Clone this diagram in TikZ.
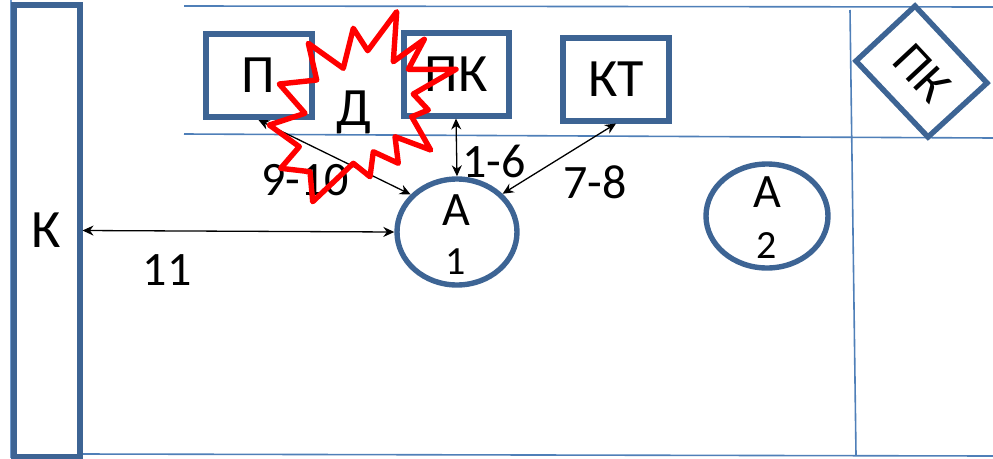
\documentclass[tikz,border=0pt]{standalone}
\usepackage{fontspec}
\setmainfont{Carlito}
\usetikzlibrary{shapes.geometric,arrows.meta}
\definecolor{boxblue}{HTML}{3D6494}
\definecolor{lineblue}{HTML}{4F7FB8}
\definecolor{pale}{HTML}{6F9BD0}
\tikzset{
  boxn/.style={draw=boxblue,line width=6pt,rectangle,inner sep=0pt,align=center,font=\fontsize{54}{54}\selectfont},
  circn/.style={draw=boxblue,line width=5.4pt,ellipse,inner sep=0pt},
  thin line/.style={draw=lineblue,line width=1.6pt},
  lab/.style={inner sep=0pt,font=\fontsize{48}{48}\selectfont},
  biarrow/.style={draw=black,line width=1.3pt,{Stealth[length=11pt,width=10pt]}-{Stealth[length=11pt,width=10pt]}},
}
\begin{document}
\begin{tikzpicture}[x=1pt,y=-1pt]
\useasboundingbox (0,0) rectangle (993,458);
% frame lines
\coordinate (tl) at (184,6); \coordinate (tr) at (993,7);
\coordinate (ml) at (184,134); \coordinate (mr) at (993,138);
\coordinate (bl) at (80,454); \coordinate (br) at (993,456);
\coordinate (vt) at (850,10); \coordinate (vb) at (856,455);
\coordinate (lt) at (10.5,0); \coordinate (lb) at (10.5,458);
\draw[thin line] (tl) -- (tr);
\draw[thin line] (ml) -- (mr);
\draw[thin line] (bl) -- (br);
\draw[thin line] (vt) -- (vb);
\draw[draw=pale,line width=2pt] (lt) -- (lb);
% boxes
\node[boxn,minimum width=66pt,minimum height=452pt] (k) at (46.5,230.5) {К};
\node[boxn,minimum width=106pt,minimum height=83pt] (p) at (258.5,75.5) {П};
\node[boxn,minimum width=105pt,minimum height=83pt] (pk) at (456,74) {ПК};
\node[boxn,minimum width=106pt,minimum height=83pt] (kt) at (616,79) {КТ};
% diamond
\coordinate (d1) at (915,6); \coordinate (d2) at (987,83);
\coordinate (d3) at (928,137); \coordinate (d4) at (856,61);
\draw[draw=boxblue,line width=5.4pt,line join=miter] (d1) -- (d2) -- (d3) -- (d4) -- cycle;
\node[inner sep=0pt,rotate=-47,font=\fontsize{50}{50}\selectfont] (pkd) at (922,73) {ПК};
% ellipses
\node[circn,minimum width=120pt,minimum height=106pt] (a1) at (457,232) {};
\node[circn,minimum width=122pt,minimum height=104pt] (a2) at (767,216) {};
\node[lab] (a1t) at (456,210) {А};
\node[inner sep=0pt,font=\fontsize{40}{40}\selectfont] (a1n) at (456,262) {1};
\node[lab] (a2t) at (767,192) {А};
\node[inner sep=0pt,font=\fontsize{40}{40}\selectfont] (a2n) at (767,246) {2};
% labels
\node[lab] (l910) at (305,180) {9-10};
\node[lab] (l16) at (494,161) {1-6};
\node[lab] (l78) at (595,182) {7-8};
\node[lab] (l11) at (167,270) {11};
\node[lab,font=\fontsize{54}{54}\selectfont] (dd) at (354,112) {Д};
% arrows
\draw[biarrow] (p.south) -- (a1.141);
\draw[biarrow] (pk.south) -- (a1.north);
\draw[biarrow] (kt.south) -- (a1.40);
\draw[biarrow] (k.east) -- (a1.west);
% star
\draw[draw=red,line width=5.4pt,line join=round]
 (396.7,11.7) -- (367.7,50.7) -- (353.3,28.3) -- (343.3,68.3) -- (308.3,43.3)
 -- (316.7,80) -- (279.3,84) -- (305,113.3) -- (269.3,125) -- (299.3,146.7)
 -- (280.7,168.3) -- (310,171.7) -- (312.7,201.7) -- (353.3,163.3) -- (370,176.7)
 -- (373.3,151.7) -- (398.3,163.3) -- (395,136.7) -- (430.7,150) -- (411.7,116.7)
 -- (428.3,110) -- (413.3,94) -- (456,69.3) -- (408.3,69.3) -- (424.3,39.3)
 -- (393.3,61.7) -- cycle;
\end{tikzpicture}
\end{document}
